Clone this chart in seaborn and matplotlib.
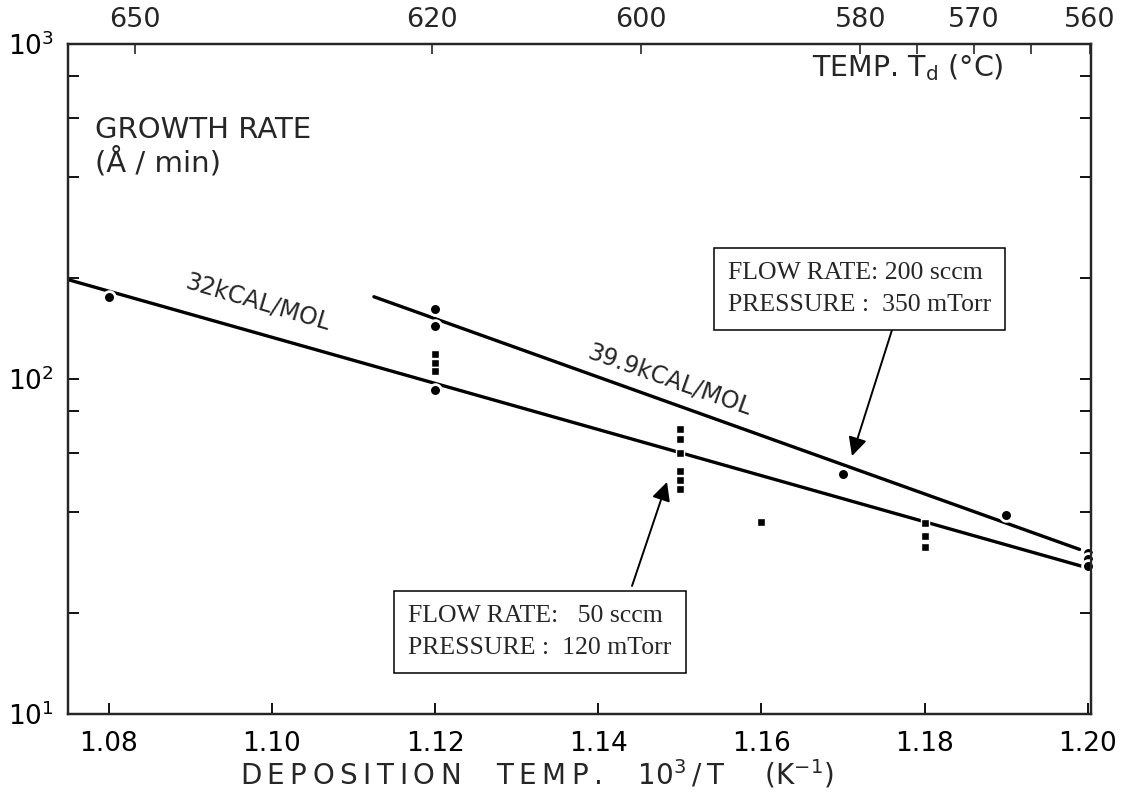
import numpy as np
import pandas as pd
import matplotlib
matplotlib.use("Agg")
import matplotlib.pyplot as plt
import seaborn as sns

# ---------------- data ----------------
# 200 sccm / 350 mTorr points (circles)
circle_x = [1.08, 1.12, 1.12, 1.12, 1.17, 1.19, 1.20, 1.20, 1.20]
circle_y = [176, 162, 144, 93, 52, 39.3, 30.3, 29.0, 27.6]
# 50 sccm / 120 mTorr points (squares)
square_x = [1.12, 1.12, 1.12, 1.15, 1.15, 1.15, 1.15, 1.15, 1.15, 1.16, 1.18, 1.18, 1.18]
square_y = [119, 112, 106, 71, 66, 60, 53, 50, 47, 37.4, 37.2, 34.0, 31.5]
# fitted Arrhenius lines
fit32_x = [1.075, 1.20]
fit32_y = [198, 27.3]
fit399_x = [1.1125, 1.199]
fit399_y = [176, 31]
# axis ticks
bottom_ticks = [1.08, 1.10, 1.12, 1.14, 1.16, 1.18, 1.20]
bottom_labels = ["1.08", "1.10", "1.12", "1.14", "1.16", "1.18", "1.20"]
top_temps = [650, 620, 600, 580, 570, 560]
top_temps_minor = [575, 565]

# ---------------- style ----------------
sns.set_style("ticks")
plt.rcParams["font.family"] = ["DejaVu Sans"]
plt.rcParams["mathtext.fontset"] = "dejavusans"

W, H = 1142, 795
fig = plt.figure(figsize=(W / 100, H / 100), dpi=100)
L, R, T, B = 68, 1091, 44, 714
ax = fig.add_axes([L / W, 1 - B / H, (R - L) / W, (B - T) / H])

df32 = pd.DataFrame({"x": fit32_x, "y": fit32_y})
df399 = pd.DataFrame({"x": fit399_x, "y": fit399_y})
sns.lineplot(data=df32, x="x", y="y", ax=ax, color="black", lw=2.4)
sns.lineplot(data=df399, x="x", y="y", ax=ax, color="black", lw=2.4)

dfc = pd.DataFrame({"x": circle_x, "y": circle_y})
dfs = pd.DataFrame({"x": square_x, "y": square_y})
sns.scatterplot(data=dfc, x="x", y="y", ax=ax, marker="o", s=72, color="black",
                edgecolor="white", linewidth=2.0, zorder=5, clip_on=False)
sns.scatterplot(data=dfs, x="x", y="y", ax=ax, marker="s", s=38, color="black",
                edgecolor="white", linewidth=1.0, zorder=5, clip_on=False)

ax.set_yscale("log")
ax.set_xlim(1.075, 1.2004)
ax.set_ylim(10, 1000)
ax.set_xticks(bottom_ticks)
ax.set_xticklabels(bottom_labels)
ax.set_yticks([10, 100, 1000])
ax.set_yticklabels([r"$10^{1}$", r"$10^{2}$", r"$10^{3}$"])
ax.yaxis.set_minor_locator(matplotlib.ticker.LogLocator(base=10, subs=[2, 4, 6, 8]))
ax.yaxis.set_minor_formatter(matplotlib.ticker.NullFormatter())
ax.tick_params(axis="both", which="both", direction="in", length=8, width=1.3,
               labelsize=19, right=True, top=False, colors="black")
ax.tick_params(axis="x", pad=12)
ax.tick_params(axis="y", pad=10)

ts = "\u2009"
def spaced(s):
    return ts.join(s)
xlabel = (spaced("DEPOSITION") + "    " + spaced("TEMP.") + "    " +
          r"$10^3$" + ts + "/" + ts + "T" + "    " + ts + r"(K$^{-1}$)")
ax.set_xlabel(xlabel, fontsize=20, labelpad=2)
ax.xaxis.set_label_coords(0.458, -0.065)
ax.set_ylabel("")
for sp in ax.spines.values():
    sp.set_visible(True)
    sp.set_linewidth(1.6)
    sp.set_color("black")

# top temperature axis
ax2 = ax.twiny()
ax2.set_xlim(ax.get_xlim())
ax2.set_xticks([1000.0 / (t + 273.15) for t in top_temps])
ax2.set_xticklabels([str(t) for t in top_temps])
ax2.set_xticks([1000.0 / (t + 273.15) for t in top_temps_minor], minor=True)
ax2.tick_params(axis="x", which="both", direction="in", length=7, width=1.2,
                labelsize=19.5, pad=8)
for sp in ax2.spines.values():
    sp.set_linewidth(1.6)

# ---------------- annotations ----------------
def fx(px):
    return px / W

def fy(py):
    return 1 - py / H

fig.text(fx(95), fy(130), "GROWTH RATE", fontsize=21, va="center", ha="left")
fig.text(fx(95), fy(162), "(Å / min)", fontsize=21, va="center", ha="left")
fig.text(fx(812), fy(68), r"TEMP. T$_\mathrm{d}$ (°C)", fontsize=20.5, va="center", ha="left")

fig.text(fx(258), fy(302), "32kCAL/MOL", fontsize=17, rotation=-16.5,
         ha="center", va="center", rotation_mode="anchor")
fig.text(fx(670), fy(380), "39.9kCAL/MOL", fontsize=17, rotation=-19.5,
         ha="center", va="center", rotation_mode="anchor")

box = dict(boxstyle="square,pad=0.55", fc="white", ec="black", lw=1.1)
fig.text(fx(728), fy(289), "FLOW RATE: 200 sccm\nPRESSURE :  350 mTorr",
         family="Liberation Serif", fontsize=18.5, ha="left", va="center",
         linespacing=1.55, bbox=box)
fig.text(fx(408), fy(632), "FLOW RATE:   50 sccm\nPRESSURE :  120 mTorr",
         family="Liberation Serif", fontsize=18.5, ha="left", va="center",
         linespacing=1.55, bbox=box)

arrow = dict(arrowstyle="-|>", color="black", lw=1.4, mutation_scale=28,
             shrinkA=0, shrinkB=0)
ax.annotate("", xy=(852, H - 456), xytext=(892, H - 330),
            xycoords="figure pixels", textcoords="figure pixels", arrowprops=arrow)
ax.annotate("", xy=(667, H - 482), xytext=(632, H - 586),
            xycoords="figure pixels", textcoords="figure pixels", arrowprops=arrow)

fig.savefig("out.png", dpi=100, facecolor="white")
